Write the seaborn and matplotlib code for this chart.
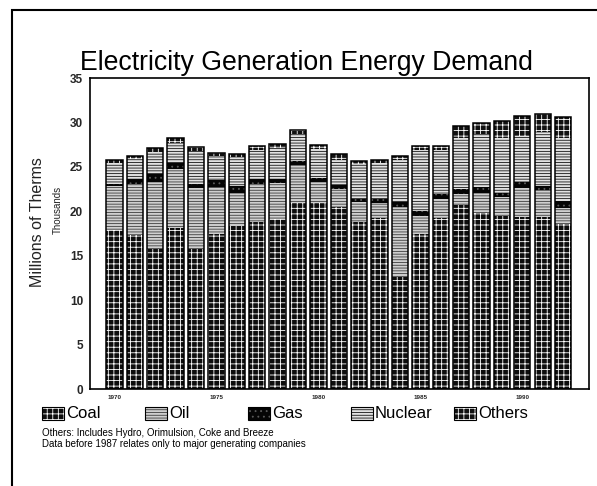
import matplotlib
matplotlib.use("Agg")
import matplotlib.pyplot as plt
from matplotlib.patches import Rectangle
import pandas as pd
import seaborn as sns

# Electricity generation energy demand, millions of therms (thousands)
years = list(range(1970, 1993))
coal = [17.9, 17.3, 15.8, 18.1, 15.8, 17.5, 18.4, 18.8, 19.1, 20.9, 20.9, 20.5,
        18.8, 19.2, 12.6, 17.5, 19.3, 20.7, 19.8, 19.5, 19.4, 19.4, 18.6]
oil = [4.9, 5.8, 7.5, 6.7, 6.8, 5.2, 3.7, 4.3, 4.1, 4.3, 2.4, 2.0,
       2.2, 1.7, 7.9, 2.0, 2.1, 1.3, 2.3, 2.1, 3.2, 3.0, 1.8]
gas = [0.3, 0.5, 0.9, 0.6, 0.5, 0.8, 0.8, 0.5, 0.4, 0.5, 0.4, 0.5,
       0.4, 0.5, 0.5, 0.5, 0.6, 0.5, 0.6, 0.5, 0.7, 0.5, 0.8]
nuclear = [2.3, 2.3, 2.5, 2.3, 3.7, 2.7, 3.2, 3.3, 3.5, 3.0, 3.3, 2.8,
           3.9, 4.0, 4.8, 6.9, 4.9, 5.8, 6.0, 6.2, 5.2, 6.0, 7.1]
others = [0.4, 0.3, 0.4, 0.5, 0.4, 0.4, 0.4, 0.4, 0.5, 0.5, 0.5, 0.7,
          0.4, 0.4, 0.4, 0.5, 0.5, 1.3, 1.2, 1.9, 2.2, 2.1, 2.3]
fuel_names = ["Coal", "Oil", "Gas", "Nuclear", "Others"]
year_ticks = [1970, 1975, 1980, 1985, 1990]
y_ticks = [0, 5, 10, 15, 20, 25, 30, 35]

sns.set_theme(style="white")
plt.rcParams["font.family"] = ["Liberation Sans", "DejaVu Sans"]
plt.rcParams["hatch.linewidth"] = 0.6

W, H = 597, 486
fig = plt.figure(figsize=(W / 100, H / 100), dpi=100)
fig.patch.set_facecolor("white")
ax = fig.add_axes([90 / W, 1 - 389 / H, (589 - 90) / W, (389 - 78) / H])

styles = {
    "Coal": dict(color="#0d0d0d", edgecolor="#ffffff", hatch="+++"),
    "Oil": dict(color="#cfcfcf", edgecolor="#3c3c3c", hatch="------"),
    "Gas": dict(color="#050505", edgecolor="#5a5a5a", hatch="..."),
    "Nuclear": dict(color="#e2e2e2", edgecolor="#151515", hatch="------"),
    "Others": dict(color="#111111", edgecolor="#ffffff", hatch="+++"),
}

df = pd.DataFrame({"year": years, "Coal": coal, "Oil": oil, "Gas": gas,
                   "Nuclear": nuclear, "Others": others})
cum = df[fuel_names].cumsum(axis=1)

# stacked bars: draw cumulative heights from the top layer down
for name in reversed(fuel_names):
    sns.barplot(x=df["year"], y=cum[name], order=years, width=0.8,
                saturation=1, linewidth=0, errorbar=None, ax=ax,
                **styles[name])
sns.barplot(x=df["year"], y=cum["Others"], order=years, width=0.8,
            fill=False, edgecolor="black", linewidth=1.1, errorbar=None, ax=ax)

ax.set_xlim(-1.2, 23.27)
ax.set_ylim(0, 35)
ax.set_yticks(y_ticks)
ax.set_yticklabels([str(v) for v in y_ticks], fontsize=8.5, fontweight="bold")
ax.set_xticks([years.index(y) for y in year_ticks])
ax.set_xticklabels([str(y) for y in year_ticks], fontsize=4.5, fontweight="bold")
ax.tick_params(axis="y", direction="in", length=4, width=1, color="black", pad=5)
ax.tick_params(axis="x", length=0, pad=4)
ax.set_xlabel("")
ax.set_ylabel("")
ax.set_facecolor("white")
for sp in ax.spines.values():
    sp.set_visible(True)
    sp.set_color("black")
    sp.set_linewidth(1.2)

fig.text(80 / W, 1 - 70 / H, "Electricity Generation Energy Demand",
         fontsize=19.2, ha="left", va="baseline", color="black")
fig.text(38 / W, 1 - 222 / H, "Millions of Therms", rotation=90,
         fontsize=11.5, ha="center", va="center", color="#222222")
fig.text(58 / W, 1 - 210 / H, "Thousands", rotation=90,
         fontsize=7, ha="center", va="center", color="#222222")

# legend row
for i, name in enumerate(fuel_names):
    x0 = 42 + 103 * i
    st = styles[name]
    fig.add_artist(Rectangle((x0 / W, 1 - 420 / H), 22 / W, 13 / H,
                             transform=fig.transFigure, facecolor=st["color"],
                             edgecolor=st["edgecolor"], hatch=st["hatch"],
                             linewidth=0))
    fig.add_artist(Rectangle((x0 / W, 1 - 420 / H), 22 / W, 13 / H,
                             transform=fig.transFigure, fill=False,
                             edgecolor="black", linewidth=0.8))
    fig.text((x0 + 24) / W, 1 - 413 / H, name, fontsize=12,
             ha="left", va="center", color="black")

fig.text(42 / W, 1 - 433 / H,
         "Others: Includes Hydro, Orimulsion, Coke and Breeze",
         fontsize=7, ha="left", va="center", color="black")
fig.text(42 / W, 1 - 444 / H,
         "Data before 1987 relates only to major generating companies",
         fontsize=7, ha="left", va="center", color="black")

# page border
fig.add_artist(Rectangle((12 / W, -0.1), 1.2, 1 - 10 / H + 0.1,
                         transform=fig.transFigure, fill=False,
                         edgecolor="black", linewidth=1.5))

fig.savefig("out.png", dpi=100, facecolor="white")
